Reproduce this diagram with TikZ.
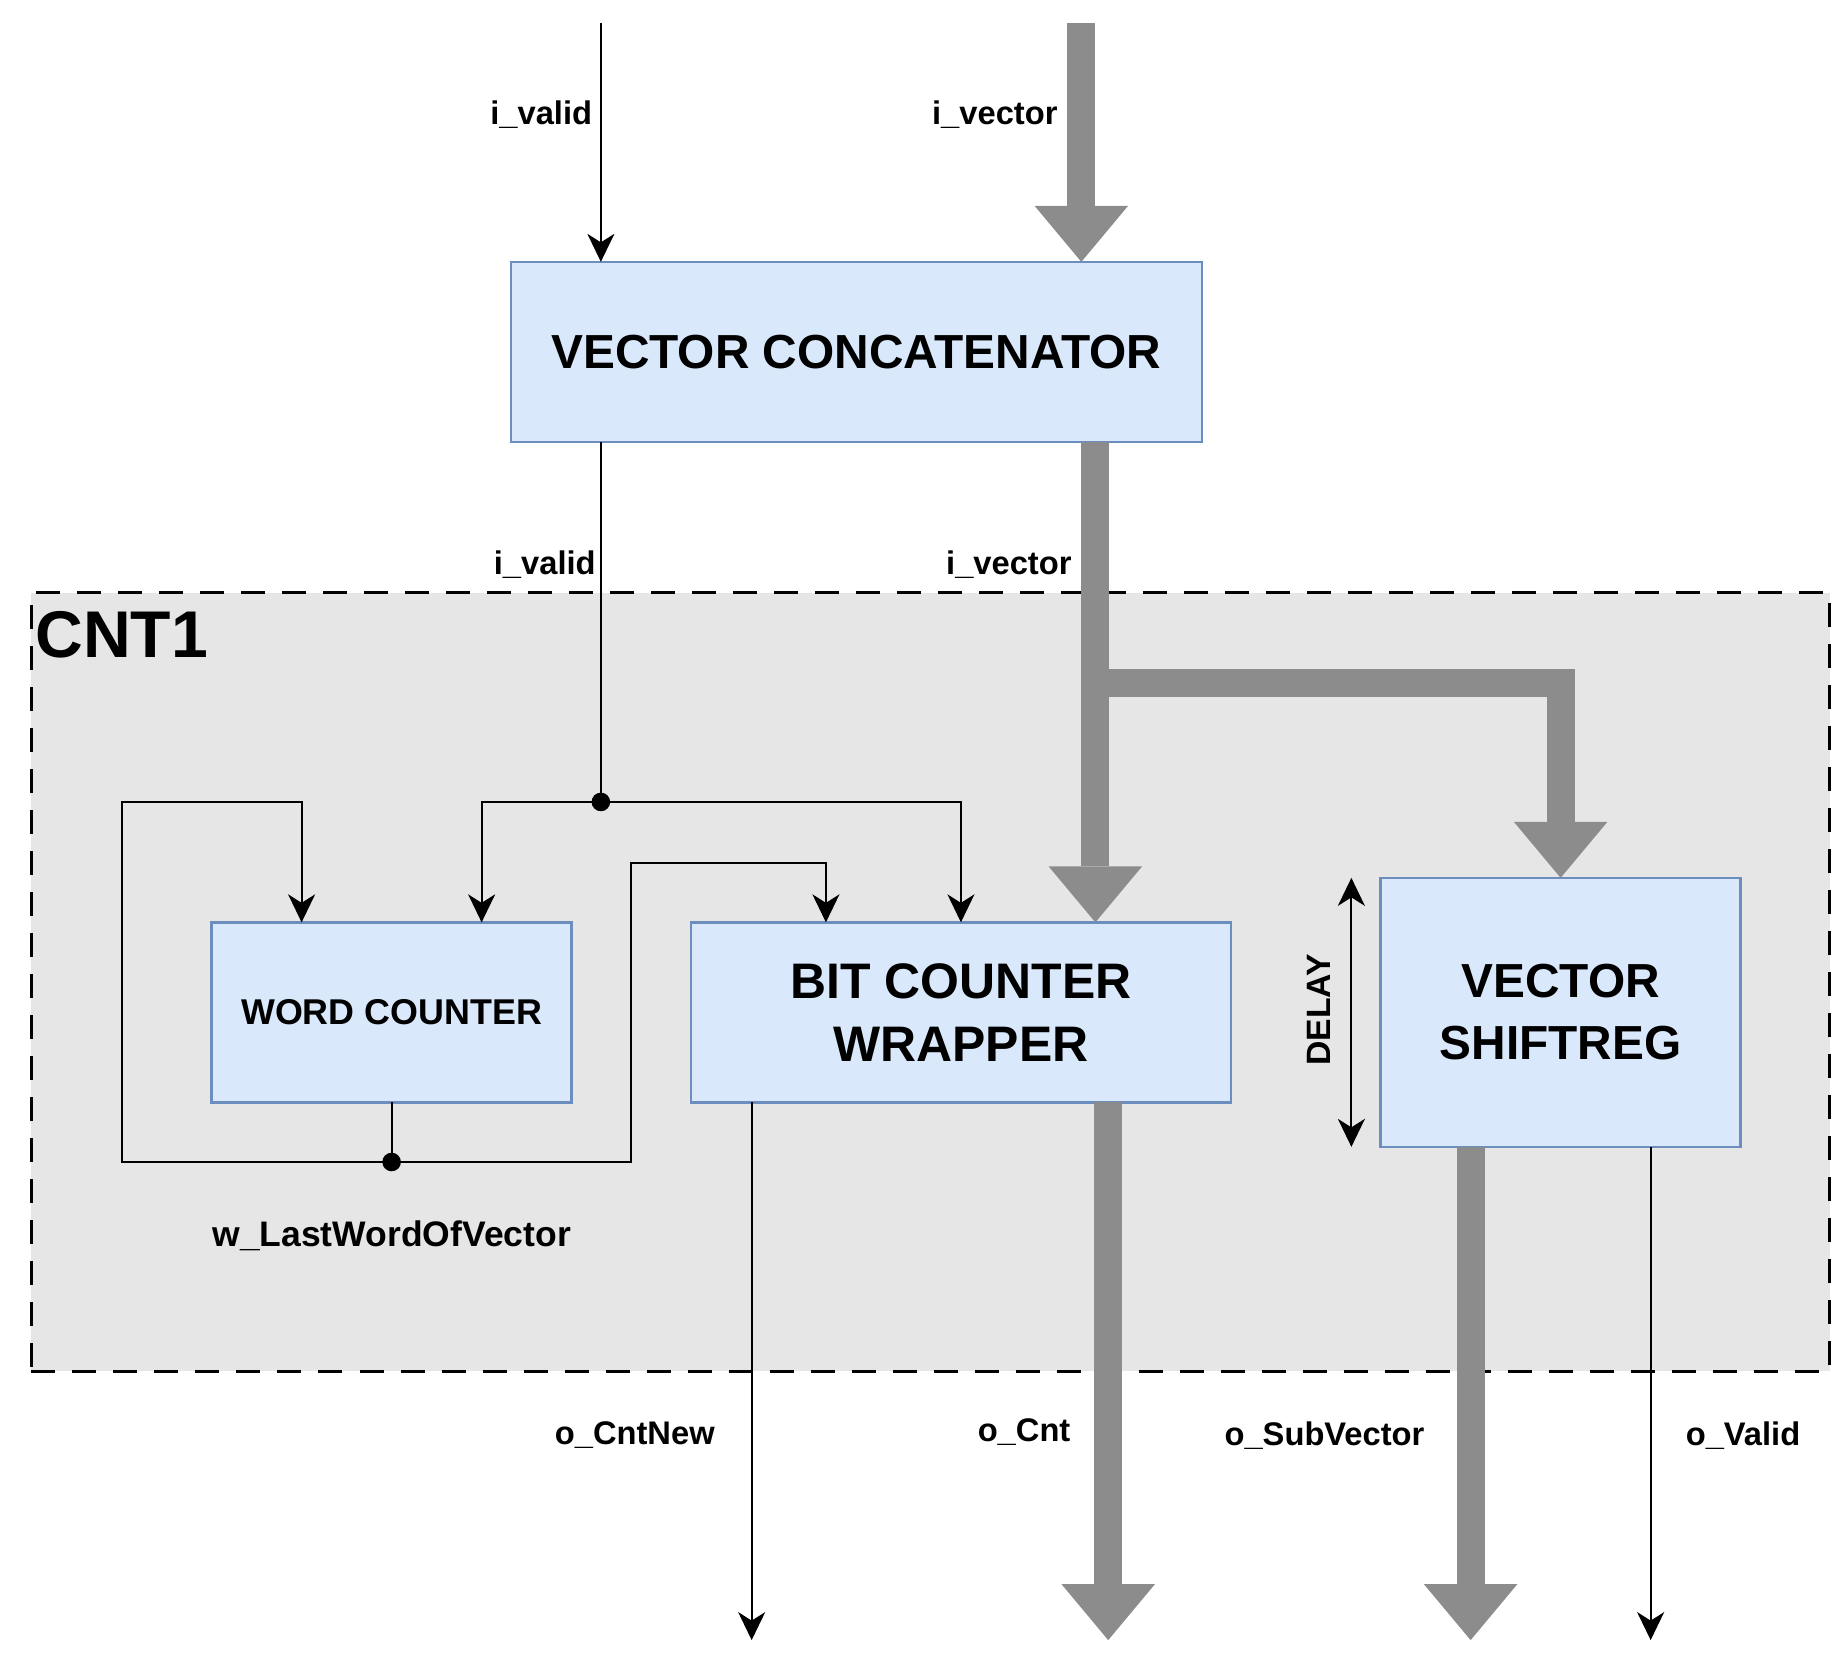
\documentclass[tikz,border=0pt]{standalone}
\usepackage{fontspec}
\setmainfont{Liberation Sans}
\usetikzlibrary{arrows.meta,calc}

\definecolor{blockfill}{HTML}{DAE8FC}
\definecolor{blockline}{HTML}{6C8EBF}
\definecolor{busgray}{HTML}{8C8C8C}
\definecolor{cntfill}{HTML}{E6E6E6}

\begin{document}
\begin{tikzpicture}[x=0.1169mm,y=-0.1169mm,
  >={Stealth[length=2.8mm,width=2.7mm,inset=0.85mm]},
  block/.style={draw=blockline,fill=blockfill,line width=0.25mm,inner sep=0pt,outer sep=0pt,
    align=center,font=\fontsize{13.6}{17.6}\selectfont\bfseries},
  wire/.style={line width=0.6pt},
  sig/.style={wire,->},
  bus/.style={busgray,line width=2.8mm,line join=miter,
    -{Triangle[width=9.35mm,length=5.6mm,line width=0pt]}},
  lbl/.style={font=\fontsize{9.3}{11}\selectfont\bfseries}]
\useasboundingbox (0,0) rectangle (1568,1427);

% CNT1 region
\node[draw,fill=cntfill,line width=0.36mm,dash pattern=on 2.4mm off 1.7mm,
  minimum width=179.8mm,minimum height=77.86mm,inner sep=0pt] (cnt1) at (796,840) {};
\node[font=\fontsize{18.8}{22}\selectfont\bfseries] (cnt1 lbl) at (104,543) {CNT1};

% blocks
\node[block,minimum width=69.09mm,minimum height=18mm] (concat) at (732.5,301) {VECTOR CONCATENATOR};
\node[block,minimum width=36mm,minimum height=18mm,font=\fontsize{10.2}{12}\selectfont\bfseries] (word) at (335,866) {WORD COUNTER};
\node[block,minimum width=54mm,minimum height=18mm,font=\fontsize{14.2}{18}\selectfont\bfseries] (bitcnt) at (822,866) {BIT COUNTER\\WRAPPER};
\node[block,minimum width=36mm,minimum height=26.9mm] (shiftreg) at (1335,866) {VECTOR\\SHIFTREG};

\coordinate (ivalid in) at (514,20);
\coordinate (ivector in) at (925,20);
\coordinate (ivalid split) at (514,686);
\coordinate (last split) at (335,994);
\coordinate (loop corner) at (104,686);
\coordinate (fb corner) at (540,738);
\coordinate (vec branch) at (937,584);
\coordinate (dly) at (1156,866);
\coordinate (o cntnew) at (643,1403);
\coordinate (o cnt) at (948,1403);
\coordinate (o subvec) at (1258,1403);
\coordinate (o valid) at (1412,1403);
\coordinate (wc a) at ($(word.north west)!0.25!(word.north east)$);
\coordinate (wc b) at ($(word.north west)!0.75!(word.north east)$);
\coordinate (bc a) at ($(bitcnt.north west)!0.25!(bitcnt.north east)$);

% inputs
\draw[sig] (ivalid in) -- (concat.north -| ivalid in);
\draw[bus] (ivector in) -- (concat.north -| ivector in);
\draw[wire] (concat.south -| ivalid in) -- (ivalid split);
\draw[bus] (concat.south -| vec branch) -- (bitcnt.north -| vec branch);
\draw[bus] (vec branch) -| (shiftreg.north);

% valid and feedback
\draw[sig] (ivalid split) -| (wc b);
\draw[sig] (ivalid split) -| (bitcnt.north);
\draw[wire] (word.south) -- (last split);
\draw[sig] (last split) -| (loop corner) -| (wc a);
\draw[sig] (last split) -| (fb corner) -| (bc a);
\fill (ivalid split) circle (0.93mm);
\fill (last split) circle (0.93mm);

\draw[wire,<->] (shiftreg.north -| dly) -- (shiftreg.south -| dly);
\node[font=\fontsize{9.6}{11}\selectfont\bfseries,rotate=90] (delay lbl) at (1128,864) {DELAY};

% outputs
\draw[sig] (bitcnt.south -| o cntnew) -- (o cntnew);
\draw[bus] (bitcnt.south -| o cnt) -- (o cnt);
\draw[bus] (shiftreg.south -| o subvec) -- (o subvec);
\draw[sig] (shiftreg.south -| o valid) -- (o valid);

% labels
\node[lbl] (l ivalid in) at (463,98) {i\_valid};
\node[lbl] (l ivector in) at (851,98) {i\_vector};
\node[lbl] (l ivalid) at (466,483) {i\_valid};
\node[lbl] (l ivector) at (863,483) {i\_vector};
\node[font=\fontsize{10.1}{12}\selectfont\bfseries] (l last) at (335,1057) {w\_LastWordOfVector};
\node[lbl] (l cntnew) at (543,1228) {o\_CntNew};
\node[lbl] (l cnt) at (876,1225) {o\_Cnt};
\node[lbl] (l subvec) at (1133,1228) {o\_SubVector};
\node[lbl] (l valid) at (1491,1228) {o\_Valid};
\end{tikzpicture}
\end{document}
